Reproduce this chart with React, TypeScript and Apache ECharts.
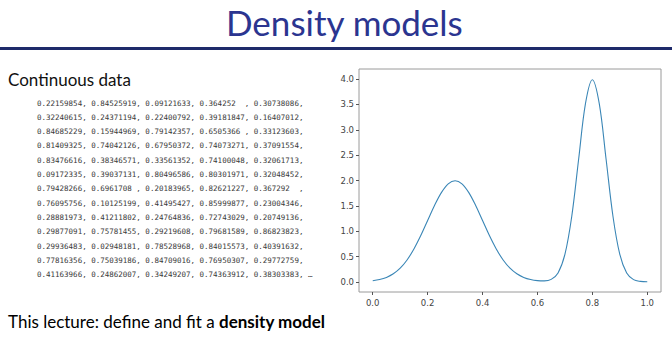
import React, { useEffect, useRef } from "react";
import * as echarts from "echarts";

const TITLE = "Density models";
const SUBTITLE = "Continuous data";
const FOOTER_NORMAL = "This lecture: define and fit a ";
const FOOTER_BOLD = "density model";

const dataLines = [
  "0.22159854, 0.84525919, 0.09121633, 0.364252  , 0.30738086,",
  "0.32240615, 0.24371194, 0.22400792, 0.39181847, 0.16407012,",
  "0.84685229, 0.15944969, 0.79142357, 0.6505366 , 0.33123603,",
  "0.81409325, 0.74042126, 0.67950372, 0.74073271, 0.37091554,",
  "0.83476616, 0.38346571, 0.33561352, 0.74100048, 0.32061713,",
  "0.09172335, 0.39037131, 0.80496586, 0.80301971, 0.32048452,",
  "0.79428266, 0.6961708 , 0.20183965, 0.82621227, 0.367292  ,",
  "0.76095756, 0.10125199, 0.41495427, 0.85999877, 0.23004346,",
  "0.28881973, 0.41211802, 0.24764836, 0.72743029, 0.20749136,",
  "0.29877091, 0.75781455, 0.29219608, 0.79681589, 0.86823823,",
  "0.29936483, 0.02948181, 0.78528968, 0.84015573, 0.40391632,",
  "0.77816356, 0.75039186, 0.84709016, 0.76950307, 0.29772759,",
  "0.41163966, 0.24862007, 0.34249207, 0.74363912, 0.38303383, …",
];

const xValues = [
  0, 0.025, 0.05, 0.075, 0.1, 0.125, 0.15, 0.175, 0.2, 0.225, 0.25, 0.275,
  0.3, 0.325, 0.35, 0.375, 0.4, 0.425, 0.45, 0.475, 0.5, 0.525, 0.55, 0.575,
  0.6, 0.625, 0.65, 0.675, 0.7, 0.725, 0.75, 0.775, 0.8, 0.825, 0.85, 0.875,
  0.9, 0.925, 0.95, 0.975, 1.0,
];

const densityValues = [
  0.022, 0.046, 0.088, 0.159, 0.27, 0.432, 0.648, 0.913, 1.21, 1.506, 1.761,
  1.934, 1.995, 1.934, 1.761, 1.506, 1.21, 0.913, 0.648, 0.432, 0.27, 0.159,
  0.088, 0.046, 0.024, 0.019, 0.049, 0.177, 0.541, 1.295, 2.419, 3.52, 3.989,
  3.52, 2.419, 1.295, 0.54, 0.175, 0.044, 0.009, 0.001,
];

const xTicks = [0, 0.2, 0.4, 0.6, 0.8, 1.0];
const yTicks = [0, 0.5, 1.0, 1.5, 2.0, 2.5, 3.0, 3.5, 4.0];

export default function App() {
  const ref = useRef<HTMLDivElement>(null);

  useEffect(() => {
    if (!ref.current) return;
    const chart = echarts.init(ref.current, null, { renderer: "svg" });

    const lineGraphics = dataLines.map((line, i) => ({
      type: "text",
      left: 37,
      top: 99 + i * 14.3,
      style: {
        text: line,
        font: '7.5px "DejaVu Sans Mono"',
        fill: "#3a3a3a",
      },
    }));

    chart.setOption({
      animation: false,
      backgroundColor: "#ffffff",
      grid: {
        left: 359,
        top: 69,
        width: 302,
        height: 223,
        show: true,
        borderColor: "#9a9a9a",
        borderWidth: 1,
        backgroundColor: "transparent",
      },
      xAxis: {
        type: "value",
        min: -0.05,
        max: 1.05,
        axisLine: { show: false, onZero: false },
        splitLine: { show: false },
        axisTick: {
          show: true,
          length: 3,
          lineStyle: { color: "#555" },
          customValues: xTicks,
        },
        axisLabel: {
          customValues: xTicks,
          formatter: (v: number) => v.toFixed(1),
          fontFamily: "DejaVu Sans",
          fontSize: 8.5,
          color: "#444",
          margin: 6,
        },
      },
      yAxis: {
        type: "value",
        min: -0.2,
        max: 4.2,
        axisLine: { show: false, onZero: false },
        splitLine: { show: false },
        axisTick: {
          show: true,
          length: 3,
          lineStyle: { color: "#555" },
          customValues: yTicks,
        },
        axisLabel: {
          customValues: yTicks,
          formatter: (v: number) => v.toFixed(1),
          fontFamily: "DejaVu Sans",
          fontSize: 8.5,
          color: "#444",
          margin: 5,
        },
      },
      series: [
        {
          type: "line",
          data: xValues.map((x, i) => [x, densityValues[i]]),
          smooth: 0.35,
          showSymbol: false,
          lineStyle: { color: "#3a86b6", width: 1.1 },
        },
      ],
      graphic: [
        {
          type: "text",
          left: 226,
          top: 4,
          style: {
            text: TITLE,
            font: '35px "Lato"',
            fill: "#2b3590",
          },
        },
        {
          type: "rect",
          shape: { x: 0, y: 47, width: 672, height: 3 },
          style: { fill: "#1e2a6a" },
        },
        {
          type: "text",
          left: 8,
          top: 71,
          style: {
            text: SUBTITLE,
            font: '17px "Lato"',
            fill: "#111",
          },
        },
        ...lineGraphics,
        {
          type: "text",
          left: 8,
          top: 313,
          style: {
            text: "{n|" + FOOTER_NORMAL + "}{b|" + FOOTER_BOLD + "}",
            rich: {
              n: { fontFamily: "Lato", fontSize: 17, color: "#111" },
              b: {
                fontFamily: "Lato",
                fontSize: 17,
                fontWeight: "bold",
                color: "#111",
              },
            },
          },
        },
      ],
    });

    return () => chart.dispose();
  }, []);

  return (
    <div
      ref={ref}
      style={{ position: "fixed", left: 0, top: 0, width: 672, height: 359 }}
    />
  );
}
